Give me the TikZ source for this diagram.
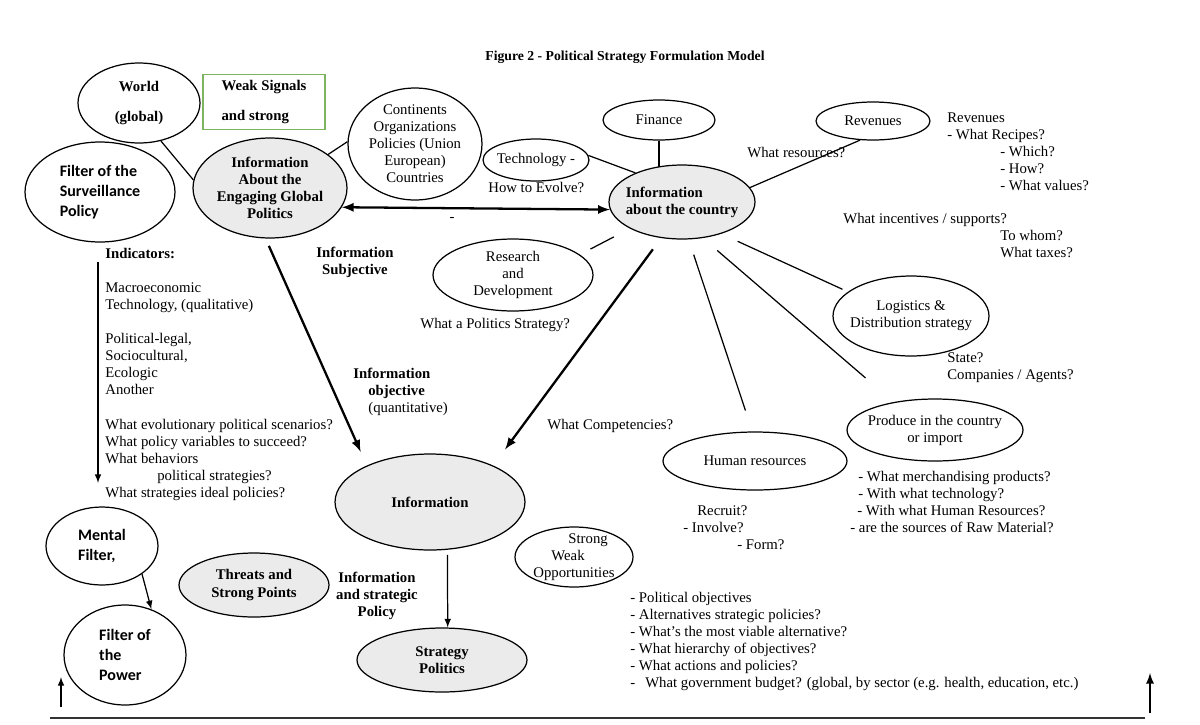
\documentclass[tikz,border=0pt]{standalone}
\usepackage{fontspec}
\setmainfont{Liberation Serif}[BoldFont={Liberation Serif Bold}]
\newfontfamily\carlito{Carlito}
\usetikzlibrary{shapes.geometric}

\newcommand\txtfont{\fontsize{8.4}{9.7}\selectfont}
\newcommand\sansbold{\carlito\bfseries\fontsize{9.1}{11.4}\selectfont}
\definecolor{signalgreen}{RGB}{125,180,95}

\tikzset{
  bubble/.style={ellipse, draw, line width=0.7pt, inner xsep=-5pt, inner ysep=-3pt, align=center, font=\txtfont},
  greybubble/.style={bubble, fill=black!8, font=\txtfont\bfseries},
  filterbubble/.style={bubble, align=left, font=\sansbold},
  note/.style={inner sep=0pt, anchor=north west, align=left, font=\txtfont},
  link/.style={line width=0.7pt},
  bigarrow/.style={line width=1.3pt, -latex},
}

\begin{document}
\begin{tikzpicture}[x=0.02cm, y=-0.02cm]
	\useasboundingbox (0,0) rectangle (1200,724);

	\node[font=\fontsize{7.8}{9}\selectfont\bfseries] (title) at (625,57) {Figure 2 - Political Strategy Formulation Model};

	% the world side
	\node[bubble, font=\txtfont\bfseries, minimum width=2.44cm, minimum height=1.6cm] (world) at (139,103) {World\\[7pt](global)};
	\node[draw=signalgreen, line width=0.7pt, minimum width=2.44cm, minimum height=0.98cm, align=left, font=\txtfont\bfseries] (signals) at (264,102) {Weak Signals\\[7pt]and strong};
	\node[filterbubble, minimum width=3cm, minimum height=2cm] (survfilter) at (100,192) {Filter of the\\Surveillance\\Policy};
	\node[greybubble, minimum width=3.08cm, minimum height=2cm] (globalinfo) at (270,188) {Information\\About the\\Engaging Global\\Politics};
	\node[bubble, minimum width=2.68cm, minimum height=2.24cm] (continents) at (415,144) {Continents\\Organizations\\Policies (Union\\European)\\Countries};

	% the country side
	\node[bubble, minimum width=2.12cm, minimum height=0.84cm] (technology) at (536,160) {Technology -};
	\node[bubble, minimum width=2.24cm, minimum height=0.8cm] (finance) at (659,120) {Finance};
	\node[greybubble, align=left, minimum width=2.92cm, minimum height=1.48cm] (country) at (682,202) {Information\\about the country};
	\node[bubble, minimum width=2.28cm, minimum height=0.76cm] (revenues) at (873,121) {Revenues};
	\node[bubble, minimum width=3.2cm, minimum height=1.44cm] (research) at (513,275) {Research\\and\\Development};
	\node[bubble, minimum width=3.12cm, minimum height=1.6cm] (logistics) at (911,316) {Logistics \&\\Distribution strategy};
	\node[bubble, minimum width=3.52cm, minimum height=1.24cm] (produce) at (935,430) {Produce in the country\\or import};
	\node[bubble, minimum width=3.68cm, minimum height=1.16cm] (humanres) at (755,461) {Human resources};

	% lower part
	\node[greybubble, minimum width=3.8cm, minimum height=1.92cm] (information) at (430,502) {Information};
	\node[bubble, align=left, minimum width=2.36cm, minimum height=1.2cm] (swo) at (574,557) {\hspace*{0.7cm}Strong\\\hspace*{0.36cm}Weak\\Opportunities};
	\node[filterbubble, minimum width=2.24cm, minimum height=1.56cm] (mental) at (102,546) {Mental\\Filter,};
	\node[filterbubble, minimum width=2.44cm, minimum height=2cm] (power) at (125,655) {Filter of\\the\\Power};
	\node[greybubble, minimum width=3cm, minimum height=1.28cm] (threats) at (254,585) {Threats and\\Strong Points};
	\node[greybubble, minimum width=3.4cm, minimum height=1.28cm] (strategy) at (442,660) {Strategy\\Politics};

	% questions and labels
	\node[note] (resources) at (747,147) {What resources?};
	\node[note] (revlist) at (947,112) {Revenues\\- What Recipes?\\\hspace*{1.06cm}- Which?\\\hspace*{1.06cm}- How?\\\hspace*{1.06cm}- What values?};
	\node[note] (incentives) at (843,213) {What incentives / supports?\\\hspace*{3.14cm}To whom?\\\hspace*{3.14cm}What taxes?};
	\node[note] (evolve) at (488,182) {How to Evolve?};
	\node[note] (polstrat) at (420,318) {What a Politics Strategy?};
	\node[font=\txtfont, inner sep=0pt] (dash) at (452,219) {-};
	\node[font=\txtfont\bfseries, align=center, inner sep=0pt] (subjective) at (355,262) {Information\\Subjective};
	\node[note] (objective) at (353,368) {\textbf{Information}\\\hspace*{0.3cm}\textbf{objective}\\\hspace*{0.3cm}(quantitative)};
	\node[note] (competencies) at (547,419) {What Competencies?};
	\node[note] (state) at (947,352) {State?\\Companies / Agents?};
	\node[note] (prodlist) at (850,471) {\hspace*{0.16cm}- What merchandising products?\\\hspace*{0.16cm}- With what technology?\\\hspace*{0.14cm}- With what Human Resources?\\- are the sources of Raw Material?};
	\node[note] (recruit) at (683,505) {\hspace*{0.28cm}Recruit?\\- Involve?\\\hspace*{1.08cm}- Form?};
	\node[note] (indicators) at (105,248) {\textbf{Indicators:}\\[9.7pt]Macroeconomic\\Technology, (qualitative)\\[9.7pt]Political-legal,\\Sociocultural,\\Ecologic\\Another\\[9.7pt]What evolutionary political scenarios?\\What policy variables to succeed?\\What behaviors\\\hspace*{1.04cm}political strategies?\\What strategies ideal policies?};
	\node[font=\txtfont\bfseries, align=center, inner sep=0pt] (stratinfo) at (377,596) {Information\\and strategic\\Policy};
	\node[note] (questions) at (630,592) {- Political objectives\\- Alternatives strategic policies?\\- What's the most viable alternative?\\- What hierarchy of objectives?\\- What actions and policies?\\-\hspace{0.2cm}What government budget? (global, by sector (e.g. health, education, etc.)};

	% links
	\draw[link] (world.-60) -- (globalinfo.174);
	\draw[link] (globalinfo.30) -- (continents.178);
	\draw[link] (technology.5) -- (country.148);
	\draw[link, shorten >=-0.05cm] (finance.south) -- (finance.south |- country.north);
	\draw[link] (revenues.236) -- (country.12);
	\draw[link, shorten <=0.24cm, shorten >=0.36cm] (research.17) -- (country.207);
	\draw[link, shorten <=0.32cm, shorten >=0.44cm] (country.-80) -- (humanres.95);
	\draw[link, shorten <=0.38cm, shorten >=0.74cm] (country.-60) -- (produce.146);
	\draw[link, shorten <=0.36cm, shorten >=0.12cm] (country.-39) -- (logistics.159);
	\draw[bigarrow, latex-latex] (globalinfo.-15) -- (country.186);
	\draw[bigarrow, shorten <=0.16cm, shorten >=0.3cm] (globalinfo.-95) -- (information.150);
	\draw[bigarrow, shorten <=0.28cm, shorten >=0.4cm] (country.240) -- (information.30);
	\draw[link, -latex, shorten <=0.1cm] (information.-70) -- (strategy.80);
	\draw[link, -latex] (mental.-35) -- (power.60);

	% free arrows and base line
	\coordinate (indtop) at (98,262);
	\coordinate (indbot) at (98,483);
	\draw[link, -latex] (indtop) -- (indbot);
	\coordinate (baseleft) at (50,718);
	\coordinate (baseright) at (1145,718);
	\draw[line width=0.9pt, black!80] (baseleft) -- (baseright);
	\coordinate (upleft) at (61,707);
	\coordinate (upleftend) at (61,677);
	\draw[link, -latex] (upleft) -- (upleftend);
	\coordinate (upright) at (1150,713);
	\coordinate (uprightend) at (1150,673);
	\draw[line width=1.1pt, -latex] (upright) -- (uprightend);
\end{tikzpicture}
\end{document}
